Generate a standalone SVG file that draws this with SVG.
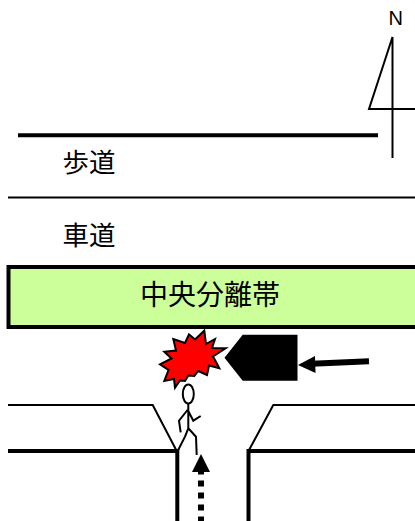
<svg xmlns="http://www.w3.org/2000/svg" width="415" height="521" viewBox="0 0 415 521">
<style>
.t{font-family:"Noto Sans CJK JP","Noto Sans CJK SC",sans-serif;font-size:26.500px;fill:#000}
.thin{fill:none;stroke:#000;stroke-width:2}
.thick{fill:none;stroke:#000;stroke-width:4}
.fig{fill:none;stroke:#000;stroke-width:2}
</style>
<rect width="415" height="521" fill="#fff"/>
<g id="north">
<text x="388.500" y="25" font-family="'Liberation Sans',sans-serif" font-size="20">N</text>
<path class="thin" d="M392.500 158V37L369 109H415"/>
</g>
<g id="sidewalk">
<path class="thick" d="M18 135.300H378"/>
<path class="thin" d="M8 197.500H415"/>
<text class="t" x="62.500" y="172">歩道</text>
<text class="t" x="62.500" y="245">車道</text>
</g>
<g id="median">
<rect x="8.500" y="267" width="420" height="60" fill="#ccff99" stroke="#000" stroke-width="4"/>
<text class="t" x="140" y="305" style="font-size:28px">中央分離帯</text>
</g>
<g id="road">
<path class="thin" d="M8 405H152.700L176.700 451"/>
<path class="thin" d="M415 405H273.300L248.500 451"/>
<path class="thick" d="M8 451H177.300V521"/>
<path class="thick" d="M415 451H248.500V521"/>
</g>
<g id="collision">
<polygon points="204.300,330.700 206,344 215,339 212,348 225.700,348.300 213,356.500 215.500,361 219.300,368.300 209,365.500 207,375 198.300,371 194.300,376 188.300,375.500 185,381 180,380.500 175,387.700 174,379 164.300,381 168.500,370 160,364.300 171.500,358.500 164.300,351.700 176,350.500 173.300,339 185,343 189,334.300 195,339.500" fill="#f00" stroke="#000" stroke-width="2"/>
</g>
<g id="vehicle">
<polygon points="242.700,334.700 297.500,334.700 297.500,380.700 242.700,380.700 224.500,357.700" fill="#000"/>
</g>
<g id="pedestrian">
<ellipse class="fig" cx="188.300" cy="394" rx="5.500" ry="9.500" fill="#fff"/>
<path class="fig" d="M188.300 403.300V428.300M188.300 409L179 420.700L180.700 432.300M188.300 411L193.300 420.700L200.700 416M188.300 428.300L185 436.700L177.300 451.700M188.300 428.300L196 436.700L196.700 455"/>
</g>
<g id="connectors">
<path d="M369 361.300L312 363.800" fill="none" stroke="#000" stroke-width="6"/>
<polygon points="298,365 315,356 315.500,373" fill="#000"/>
<path d="M201 468.500V521" fill="none" stroke="#000" stroke-width="6" stroke-dasharray="6 6"/>
<polygon points="201,454 210,472 192,472" fill="#000"/>
</g>
</svg>
